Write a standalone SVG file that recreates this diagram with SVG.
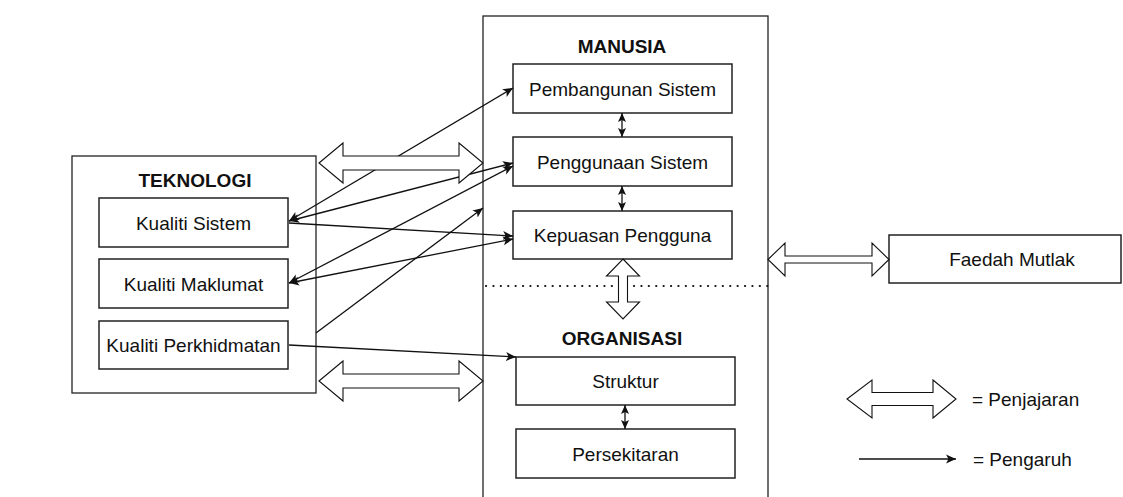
<svg xmlns="http://www.w3.org/2000/svg" width="1123" height="497" viewBox="0 0 1123 497">
  <style>
    .frame { fill: #ffffff; stroke: #222222; stroke-width: 1.3; }
    .box { fill: #ffffff; stroke: #222222; stroke-width: 1.5; }
    .lbl { font-family: "Liberation Sans", Arial, sans-serif; font-size: 19px; fill: #111111; text-anchor: middle; }
    .title { font-family: "Liberation Sans", Arial, sans-serif; font-size: 19px; font-weight: bold; fill: #111111; text-anchor: middle; }
    .legend { font-family: "Liberation Sans", Arial, sans-serif; font-size: 19px; fill: #111111; }
    .link { fill: none; stroke: #111111; stroke-width: 1.3; }
    .both { marker-start: url(#arrow); marker-end: url(#arrow); }
    .end { marker-end: url(#arrow); }
    .pair { marker-start: url(#arrowSmall); marker-end: url(#arrowSmall); }
    .hollow { fill: #ffffff; stroke: #111111; stroke-width: 1.1; stroke-linejoin: miter; }
    .dots { fill: none; stroke: #111111; stroke-width: 2.2; stroke-linecap: round; stroke-dasharray: 0.1 7.3; }
  </style>
  <defs>
    <marker id="arrow" markerUnits="userSpaceOnUse" viewBox="0 -5 12 10" refX="10" refY="0" markerWidth="12" markerHeight="10" orient="auto-start-reverse">
      <path d="M0,-4.5 L10,0 L0,4.5 L2.5,0 Z" fill="#111111"/>
    </marker>
    <marker id="arrowSmall" markerUnits="userSpaceOnUse" viewBox="0 -5 10 10" refX="9" refY="0" markerWidth="10" markerHeight="10" orient="auto-start-reverse">
      <path d="M0,-4 L9,0 L0,4 L2,0 Z" fill="#111111"/>
    </marker>
  </defs>

  <rect width="1123" height="497" fill="#ffffff"/>

  <!-- outer frames -->
  <g id="teknologi">
    <rect class="frame" x="72" y="156" width="244" height="237"/>
    <text class="title" x="195" y="187">TEKNOLOGI</text>
  </g>
  <g id="manusia">
    <rect class="frame" x="483" y="16" width="285" height="500"/>
    <text class="title" x="622" y="53">MANUSIA</text>
    <line class="dots" x1="486" y1="286" x2="768" y2="286"/>
  </g>
  <g id="organisasi">
    <text class="title" x="622" y="345">ORGANISASI</text>
  </g>

  <!-- technology factors -->
  <g id="kualiti-sistem">
    <rect class="box" x="99" y="198" width="189" height="49"/>
    <text class="lbl" x="193.5" y="229.5">Kualiti Sistem</text>
  </g>
  <g id="kualiti-maklumat">
    <rect class="box" x="99" y="259" width="189" height="49"/>
    <text class="lbl" x="193.5" y="290.5">Kualiti Maklumat</text>
  </g>
  <g id="kualiti-perkhidmatan">
    <rect class="box" x="99" y="321" width="189" height="48"/>
    <text class="lbl" x="193.5" y="352">Kualiti Perkhidmatan</text>
  </g>

  <!-- human factors -->
  <g id="pembangunan-sistem">
    <rect class="box" x="513" y="64" width="219" height="49"/>
    <text class="lbl" x="622.5" y="95.5">Pembangunan Sistem</text>
  </g>
  <g id="penggunaan-sistem">
    <rect class="box" x="513" y="137" width="219" height="49"/>
    <text class="lbl" x="622.5" y="168.5">Penggunaan Sistem</text>
  </g>
  <g id="kepuasan-pengguna">
    <rect class="box" x="513" y="211" width="219" height="48"/>
    <text class="lbl" x="622.5" y="242">Kepuasan Pengguna</text>
  </g>

  <!-- organisation factors -->
  <g id="struktur">
    <rect class="box" x="516" y="357" width="219" height="48"/>
    <text class="lbl" x="625.5" y="388">Struktur</text>
  </g>
  <g id="persekitaran">
    <rect class="box" x="516" y="429" width="219" height="49"/>
    <text class="lbl" x="625.5" y="460.5">Persekitaran</text>
  </g>

  <!-- net benefit -->
  <g id="faedah-mutlak">
    <rect class="box" x="889" y="235" width="232" height="48"/>
    <text class="lbl" x="1012" y="266">Faedah Mutlak</text>
  </g>

  <!-- connectors -->
  <g id="connectors">
    <!-- influence links -->
    <line class="link both" x1="513" y1="88" x2="289" y2="221"/>
    <line class="link both" x1="513" y1="163" x2="289" y2="221"/>
    <line class="link end" x1="289" y1="223" x2="513" y2="236"/>
    <line class="link both" x1="513" y1="166" x2="289" y2="283"/>
    <line class="link both" x1="513" y1="239" x2="289" y2="283"/>
    <line class="link end" x1="316" y1="333" x2="483" y2="208"/>
    <line class="link end" x1="289" y1="345" x2="516" y2="357"/>

    <!-- links between stacked boxes -->
    <line class="link pair" x1="622" y1="113" x2="622" y2="137"/>
    <line class="link pair" x1="622" y1="186" x2="622" y2="211"/>
    <line class="link pair" x1="625" y1="405" x2="625" y2="429"/>

    <!-- alignment arrows -->
    <polygon class="hollow" points="319,163 343,143 343,156 459,156 459,143 483,163 459,183 459,170 343,170 343,183"/>
    <polygon class="hollow" points="319,381 343,361 343,374 459,374 459,361 483,381 459,401 459,388 343,388 343,401"/>
    <polygon class="hollow" points="768,259.5 785,243 785,256 872,256 872,243 889,259.5 872,276 872,263 785,263 785,276"/>
    <polygon class="hollow" points="623,259 639.5,276 627.5,276 627.5,302 639.5,302 623,319 606.5,302 618.5,302 618.5,276 606.5,276"/>
  </g>

  <!-- key -->
  <g id="legend">
    <polygon class="hollow" points="847,399 872,380 872,392.5 933,392.5 933,380 956,399 933,418 933,405.5 872,405.5 872,418"/>
    <text class="legend" x="972" y="406">= Penjajaran</text>
    <line class="link end" x1="859" y1="459" x2="956" y2="459"/>
    <text class="legend" x="973" y="466">= Pengaruh</text>
  </g>
</svg>
